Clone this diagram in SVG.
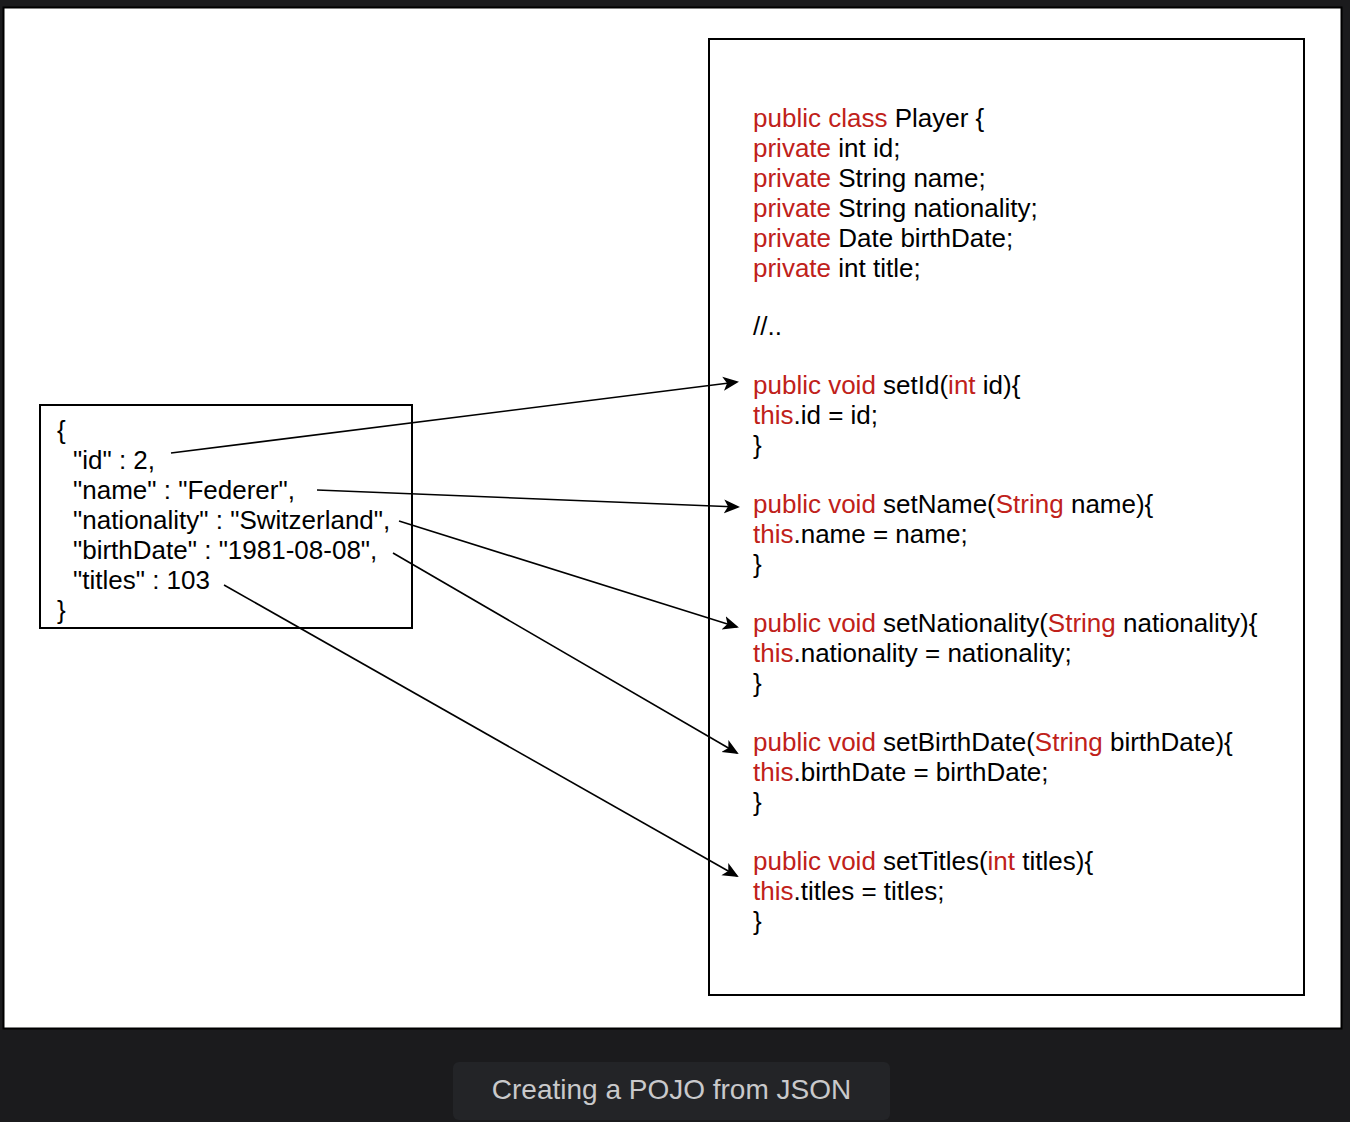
<svg xmlns="http://www.w3.org/2000/svg" width="1350" height="1122" viewBox="0 0 1350 1122">
<style>
.t{font-family:"Liberation Sans",Arial,Helvetica,sans-serif;font-size:26px;fill:#000}
.r{fill:#c0211a}
.box{fill:#fff;stroke:#000;stroke-width:2}
.conn line{stroke:#000;stroke-width:1.6}
.cap{font-family:"Liberation Sans",Arial,Helvetica,sans-serif;font-size:28px;fill:#c9c9cb}
</style>
<defs>
<marker id="ah" markerWidth="16" markerHeight="16" refX="14" refY="8" orient="auto" markerUnits="userSpaceOnUse" viewBox="0 0 16 16">
<path d="M0,1 L16,8 L0,15 L4,8 Z" fill="#000"/>
</marker>
</defs>
<rect x="0" y="0" width="1350" height="1122" fill="#1b1b1d"/>
<rect x="3.5" y="7.5" width="1338" height="1021" fill="#fff" stroke="#000" stroke-width="2"/>
<g id="pojo">
<rect class="box" x="709" y="39" width="595" height="956"/>
<text class="t">
<tspan x="753" y="127"><tspan class="r">public class</tspan> Player {</tspan>
<tspan x="753" y="157"><tspan class="r">private</tspan> int id;</tspan>
<tspan x="753" y="187"><tspan class="r">private</tspan> String name;</tspan>
<tspan x="753" y="217"><tspan class="r">private</tspan> String nationality;</tspan>
<tspan x="753" y="247"><tspan class="r">private</tspan> Date birthDate;</tspan>
<tspan x="753" y="277"><tspan class="r">private</tspan> int title;</tspan>
<tspan x="753" y="335">//..</tspan>
<tspan x="753" y="394"><tspan class="r">public void</tspan> setId(<tspan class="r">int</tspan> id){</tspan>
<tspan x="753" y="424"><tspan class="r">this</tspan>.id = id;</tspan>
<tspan x="753" y="454">}</tspan>
<tspan x="753" y="513"><tspan class="r">public void</tspan> setName(<tspan class="r">String</tspan> name){</tspan>
<tspan x="753" y="543"><tspan class="r">this</tspan>.name = name;</tspan>
<tspan x="753" y="573">}</tspan>
<tspan x="753" y="632"><tspan class="r">public void</tspan> setNationality(<tspan class="r">String</tspan> nationality){</tspan>
<tspan x="753" y="662"><tspan class="r">this</tspan>.nationality = nationality;</tspan>
<tspan x="753" y="692">}</tspan>
<tspan x="753" y="751"><tspan class="r">public void</tspan> setBirthDate(<tspan class="r">String</tspan> birthDate){</tspan>
<tspan x="753" y="781"><tspan class="r">this</tspan>.birthDate = birthDate;</tspan>
<tspan x="753" y="811">}</tspan>
<tspan x="753" y="870"><tspan class="r">public void</tspan> setTitles(<tspan class="r">int</tspan> titles){</tspan>
<tspan x="753" y="900"><tspan class="r">this</tspan>.titles = titles;</tspan>
<tspan x="753" y="930">}</tspan>
</text>
</g>
<g id="json">
<rect class="box" x="40" y="405" width="372" height="223"/>
<text class="t">
<tspan x="57" y="439">{</tspan>
<tspan x="73" y="469">"id" : 2,</tspan>
<tspan x="73" y="499">"name" : "Federer",</tspan>
<tspan x="73" y="529">"nationality" : "Switzerland",</tspan>
<tspan x="73" y="559">"birthDate" : "1981-08-08",</tspan>
<tspan x="73" y="589">"titles" : 103</tspan>
<tspan x="57" y="619">}</tspan>
</text>
</g>
<g class="conn" id="connectors">
<line x1="171" y1="453" x2="737" y2="382" marker-end="url(#ah)"/>
<line x1="317" y1="490" x2="738" y2="507" marker-end="url(#ah)"/>
<line x1="399" y1="521" x2="737" y2="627" marker-end="url(#ah)"/>
<line x1="393" y1="553" x2="737" y2="753" marker-end="url(#ah)"/>
<line x1="224" y1="585" x2="737" y2="876" marker-end="url(#ah)"/>
</g>
<g id="caption">
<rect x="453" y="1062" width="437" height="58" rx="6" fill="#232427"/>
<text class="cap" x="671.5" y="1099" text-anchor="middle">Creating a POJO from JSON</text>
</g>
</svg>
